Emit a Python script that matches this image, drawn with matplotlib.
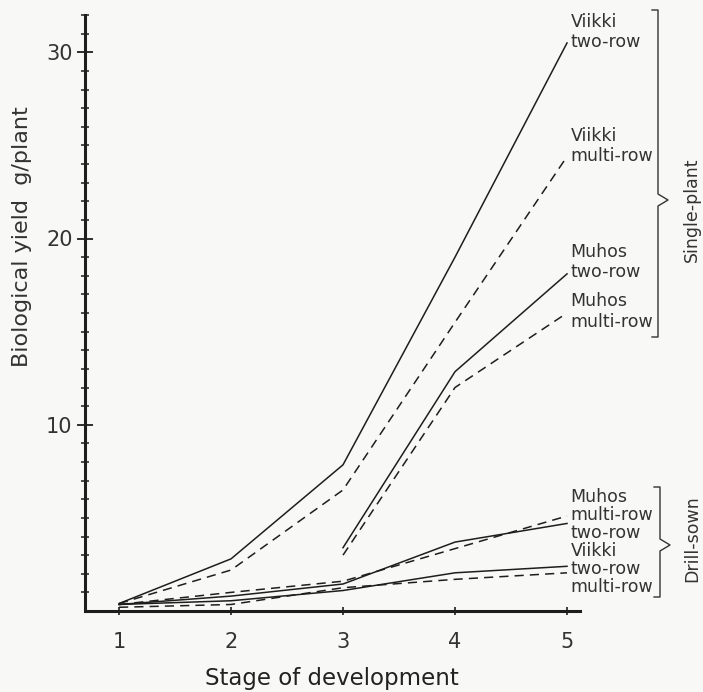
import numpy as np
import matplotlib
matplotlib.use('Agg')
import matplotlib.pyplot as plt
from matplotlib.lines import Line2D

stages = [1, 2, 3, 4, 5]

# single-plant yields, g/plant
viikki_two_sp = [0.4, 2.8, 7.85, 19.0, 30.5]
viikki_multi_sp = [0.4, 2.2, 6.5, 15.5, 24.4]
muhos_two_sp = [np.nan, np.nan, 3.4, 12.85, 18.1]
muhos_multi_sp = [np.nan, np.nan, 3.0, 12.0, 16.0]

# drill-sown yields, g/plant
muhos_multi_ds = [0.35, 1.0, 1.6, 3.35, 5.1]
muhos_two_ds = [0.35, 0.8, 1.45, 3.7, 4.7]
viikki_two_ds = [0.35, 0.55, 1.1, 2.05, 2.4]
viikki_multi_ds = [0.2, 0.35, 1.25, 1.7, 2.05]

ink = '#1e1e1e'
dash = (0, (6, 4))
plt.rcParams['font.family'] = 'DejaVu Sans'

fig = plt.figure(figsize=(7.03, 6.92), dpi=100, facecolor='#f8f8f6')
ax = fig.add_axes([85/703, 1 - 611/692, (580 - 85)/703, (611 - 15)/692])
ax.set_facecolor('none')

#single-plant lines
ax.plot(stages, viikki_two_sp, color=ink, lw=1.1)
ax.plot(stages, viikki_multi_sp, color=ink, lw=1.1, ls=dash)
ax.plot(stages, muhos_two_sp, color=ink, lw=1.1)
ax.plot(stages, muhos_multi_sp, color=ink, lw=1.1, ls=dash)

#drill-sown lines
ax.plot(stages, muhos_multi_ds, color=ink, lw=1.1, ls=dash)
ax.plot(stages, muhos_two_ds, color=ink, lw=1.1)
ax.plot(stages, viikki_two_ds, color=ink, lw=1.1)
ax.plot(stages, viikki_multi_ds, color=ink, lw=1.1, ls=dash)

ax.set_xlim(0.696, 5.116)
ax.set_ylim(0, 32.0)
for s in ['top', 'right']:
    ax.spines[s].set_visible(False)
for s in ['left', 'bottom']:
    ax.spines[s].set_linewidth(2.2)
    ax.spines[s].set_color(ink)

ax.set_xticks(stages)
ax.set_yticks([10, 20, 30])
ax.set_yticks(range(1, 33), minor=True)
ax.tick_params(axis='x', direction='inout', length=6, width=1.2, color=ink,
               labelsize=15, labelcolor='#333333', pad=12)
ax.tick_params(axis='y', which='major', direction='inout', length=12, width=1.3,
               color=ink, labelsize=15, labelcolor='#333333', pad=3)
ax.tick_params(axis='y', which='minor', direction='inout', length=6, width=1.1,
               color=ink)

fig.text(332/703, 1 - 678/692, 'Stage of development', ha='center', va='center',
         fontsize=16.5, color='#222222')
fig.text(22/703, 1 - 237/692, 'Biological yield  g/plant', ha='center', va='center',
         rotation=90, fontsize=16, color='#333333')

#curve labels
lab = dict(fontsize=12.5, color='#333333', ha='left', va='center', clip_on=False,
           linespacing=1.15)
ax.text(5.03, 31.1, 'Viikki\ntwo-row', **lab)
ax.text(5.03, 24.95, 'Viikki\nmulti-row', **lab)
ax.text(5.03, 18.76, 'Muhos\ntwo-row', **lab)
ax.text(5.03, 16.08, 'Muhos\nmulti-row', **lab)
lab['linespacing'] = 1.0
ax.text(5.03, 3.7, 'Muhos\nmulti-row\ntwo-row\nViikki\ntwo-row\nmulti-row', **lab)


def bracket(x, top, bottom, mid, w=10, hook=6):
    # curly bracket in figure pixels
    H = 692
    xs = [x - hook, x, x, x + w, x, x, x - hook]
    ys = [top, top, mid - 6, mid, mid + 6, bottom, bottom]
    fig.add_artist(Line2D([v/703 for v in xs], [1 - v/H for v in ys],
                          color='#333333', lw=1.0, transform=fig.transFigure))


bracket(658, 10, 337, 200)
bracket(660, 487, 597, 545)
fig.text(692/703, 1 - 210/692, 'Single-plant', rotation=90, ha='center', va='center',
         fontsize=12.5, color='#333333')
fig.text(692/703, 1 - 539/692, 'Drill-sown', rotation=90, ha='center', va='center',
         fontsize=12.5, color='#333333')

fig.savefig('out.png', dpi=100, facecolor=fig.get_facecolor())
